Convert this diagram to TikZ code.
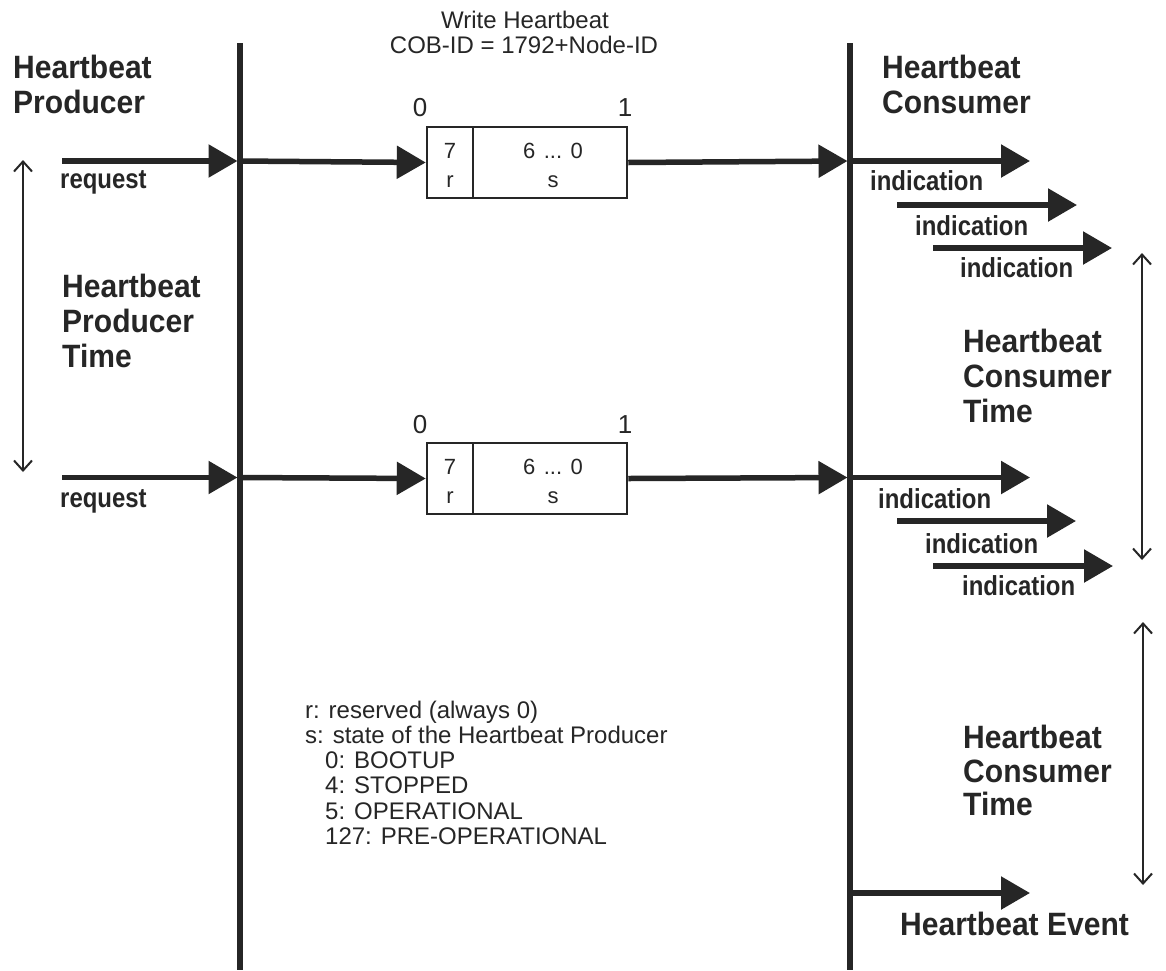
\documentclass[tikz,border=0pt]{standalone}
\usepackage{fontspec}
\setmainfont{Liberation Sans}
\newfontfamily\bigbold[FakeStretch=0.93]{Liberation Sans Bold}
\newfontfamily\smbold[FakeStretch=0.87]{Liberation Sans Bold}
\usetikzlibrary{arrows.meta}
\definecolor{ink}{HTML}{262626}
\begin{document}
\begin{tikzpicture}[x=1pt,y=-1pt,
  txt/.style={inner sep=0pt, text=ink, anchor=base west},
  hb/.style={txt, font=\bigbold\fontsize{32.3}{35}\selectfont},
  sm/.style={txt, font=\smbold\fontsize{27.5}{29}\selectfont},
  rg/.style={txt, font=\fontsize{24}{29}\selectfont},
  ctr/.style={inner sep=0pt, text=ink, anchor=base},
  big/.style={draw=ink, line width=5.5pt, -{Triangle[length=29pt,width=32pt]}},
  plain/.style={draw=ink, line width=5.5pt},
  span/.style={draw=ink, line width=2pt, {Straight Barb[length=10pt,width=18pt]}-{Straight Barb[length=10pt,width=18pt]}},
  cell/.style={draw=ink, line width=2.5pt, inner sep=0pt, minimum height=71pt},
  celltxt/.style={ctr, font=\fontsize{22}{26}\selectfont},
  bitno/.style={ctr, font=\fontsize{26}{30}\selectfont},
]
\fill[white] (0,0) rectangle (1166,970);
\useasboundingbox (0,0) rectangle (1166,970);

% vertical lines
\coordinate (Ltop) at (240,43);
\coordinate (Lbot) at (240,970);
\coordinate (Rtop) at (850,43);
\coordinate (Rbot) at (850,970);
\draw[plain] (Ltop) -- (Lbot);
\draw[plain] (Rtop) -- (Rbot);

% title
\node[ctr, font=\fontsize{24}{29}\selectfont] (t1) at (525,28) {Write Heartbeat};
\node[ctr, font=\fontsize{24}{29}\selectfont] (t2) at (524,53) {COB-ID = 1792+Node-ID};

% side labels
\node[hb] (pl1) at (13,78) {Heartbeat};
\node[hb] (pl2) at (13,113) {Producer};
\node[hb] (cl1) at (882,78) {Heartbeat};
\node[hb] (cl2) at (882,113) {Consumer};

\node[hb] (hpt1) at (62,297) {Heartbeat};
\node[hb] (hpt2) at (62,332) {Producer};
\node[hb] (hpt3) at (62,367) {Time};

\node[hb] (hct1) at (963,352) {Heartbeat};
\node[hb] (hct2) at (963,387) {Consumer};
\node[hb] (hct3) at (963,422) {Time};

\node[hb] (hcu1) at (963,748) {Heartbeat};
\node[hb] (hcu2) at (963,782) {Consumer};
\node[hb] (hcu3) at (963,815) {Time};

\node[hb] (hev) at (900,935) {Heartbeat Event};

% spans
\coordinate (sa1) at (23,160);
\coordinate (sa2) at (23,472);
\draw[span] (sa1) -- (sa2);
\coordinate (sb1) at (1142,253);
\coordinate (sb2) at (1142,560);
\draw[span] (sb1) -- (sb2);
\coordinate (sc1) at (1143,622);
\coordinate (sc2) at (1143,885);
\draw[span] (sc1) -- (sc2);

% ---------- row 1 ----------
\coordinate (rq1) at (62,161);
\coordinate (L1) at (237.5,161);
\coordinate (R1) at (847.5,161);
\coordinate (o1) at (1030,161);
\node[cell, minimum width=46pt] (r1) at (450,162.5) {};
\node[cell, minimum width=154pt] (s1) at (550,162.5) {};
\draw[big] (rq1) -- (L1);
\draw[big] (L1) -- (r1.west);
\draw[big] (s1.east) -- (R1);
\draw[big] (R1) -- (o1);
\node[bitno] (z1) at (420,116) {0};
\node[bitno] (u1) at (625,116) {1};
\node[celltxt] (b7a) at (450,158) {7};
\node[celltxt] (bra) at (450,187) {r};
\node[celltxt] (b6a) at (553,158) {6\hspace{0.39em}...\hspace{0.39em}0};
\node[celltxt] (bsa) at (553,187) {s};
\node[sm] (req1) at (60,188) {request};

\coordinate (ia1) at (897,205);
\coordinate (ia2) at (1077,205);
\coordinate (ib1) at (933,248);
\coordinate (ib2) at (1112,248);
\draw[big] (ia1) -- (ia2);
\draw[big] (ib1) -- (ib2);
\node[sm] (in1) at (870,190) {indication};
\node[sm] (in2) at (915,235) {indication};
\node[sm] (in3) at (960,277) {indication};

% ---------- row 2 ----------
\coordinate (rq2) at (62,477.5);
\coordinate (L2) at (237.5,477.5);
\coordinate (R2) at (847.5,477.5);
\coordinate (o2) at (1030,477.5);
\node[cell, minimum width=46pt] (r2) at (450,478.5) {};
\node[cell, minimum width=154pt] (s2) at (550,478.5) {};
\draw[big] (rq2) -- (L2);
\draw[big] (L2) -- (r2.west);
\draw[big] (s2.east) -- (R2);
\draw[big] (R2) -- (o2);
\node[bitno] (z2) at (420,433) {0};
\node[bitno] (u2) at (625,433) {1};
\node[celltxt] (b7b) at (450,474) {7};
\node[celltxt] (brb) at (450,503) {r};
\node[celltxt] (b6b) at (553,474) {6\hspace{0.39em}...\hspace{0.39em}0};
\node[celltxt] (bsb) at (553,503) {s};
\node[sm] (req2) at (60,507) {request};

\coordinate (ja1) at (897,521);
\coordinate (ja2) at (1076,521);
\coordinate (jb1) at (933,566);
\coordinate (jb2) at (1113,566);
\draw[big] (ja1) -- (ja2);
\draw[big] (jb1) -- (jb2);
\node[sm] (jn1) at (878,508) {indication};
\node[sm] (jn2) at (925,553) {indication};
\node[sm] (jn3) at (962,595) {indication};

% event
\coordinate (R3) at (850,893);
\coordinate (o3) at (1030,893);
\draw[big] (R3) -- (o3);

% legend
\node[rg] (lg1) at (305,718) {r: reserved (always 0)};
\node[rg] (lg2) at (305,743.3) {s: state of the Heartbeat Producer};
\node[rg] (lg3) at (325,768.6) {0: BOOTUP};
\node[rg] (lg4) at (325,793.9) {4: STOPPED};
\node[rg] (lg5) at (325,819.2) {5: OPERATIONAL};
\node[rg] (lg6) at (325,844.5) {127: PRE-OPERATIONAL};
\end{tikzpicture}
\end{document}
